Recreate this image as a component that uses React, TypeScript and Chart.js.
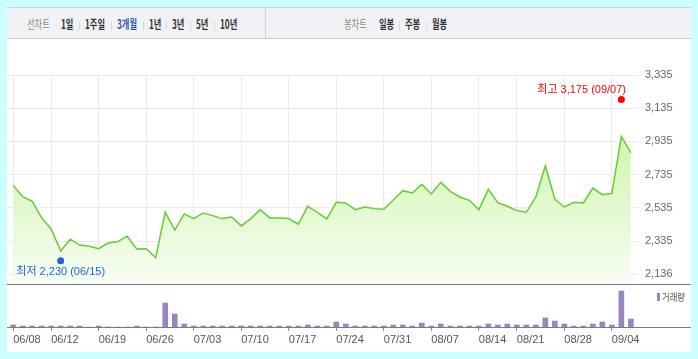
import React, { useEffect, useRef } from "react";
import { Chart, registerables } from "chart.js";

Chart.register(...registerables);

// ---------- data ----------
const tradingDates = [
  "06/08", "06/09", "06/10", "06/11", "06/12", "06/15", "06/16", "06/17", "06/18", "06/19",
  "06/22", "06/23", "06/24", "06/25", "06/26", "06/29", "06/30",
  "07/01", "07/02", "07/03", "07/06", "07/07", "07/08", "07/09", "07/10", "07/13", "07/14",
  "07/15", "07/16", "07/17", "07/20", "07/21", "07/22", "07/23", "07/24", "07/27", "07/28",
  "07/29", "07/30", "07/31",
  "08/03", "08/04", "08/05", "08/06", "08/07", "08/10", "08/11", "08/12", "08/13", "08/14",
  "08/18", "08/19", "08/20", "08/21", "08/24", "08/25", "08/26", "08/27", "08/28", "08/31",
  "09/01", "09/02", "09/03", "09/04", "09/07", "09/08",
];

const closePrices = [
  2671, 2603, 2575, 2476, 2409, 2276, 2347, 2312, 2304, 2290,
  2324, 2332, 2365, 2288, 2290, 2236, 2509,
  2402, 2499, 2471, 2505, 2489, 2471, 2481, 2427, 2471, 2525,
  2475, 2475, 2471, 2437, 2545, 2509, 2469, 2569, 2565, 2525,
  2541, 2531, 2527,
  2583, 2639, 2625, 2677, 2619, 2689, 2635, 2601, 2581, 2525,
  2647, 2567, 2545, 2519, 2509, 2601, 2789, 2587, 2541, 2569,
  2565, 2655, 2615, 2623, 2966, 2868,
];

const volumes = [
  2000, 1000, 1000, 1000, 1000, 1000, 1000, 1000, 0, 1000,
  0, 0, 0, 1000, 0, 0, 24000,
  13000, 3000, 1000, 1000, 1000, 1000, 1000, 1000, 1000, 1000,
  1000, 1000, 1000, 1000, 2000, 1000, 1000, 5000, 3000, 1000,
  1000, 1000, 1000,
  2000, 2000, 1000, 4000, 1000, 3000, 1000, 1000, 1000, 1000,
  3000, 2000, 3000, 2000, 2000, 2000, 9000, 6000, 3000, 1000,
  1000, 3000, 5000, 2000, 36000, 8000,
];

const axisDateLabels = [
  "06/08", "06/12", "06/19", "06/26", "07/03", "07/10", "07/17",
  "07/24", "07/31", "08/07", "08/14", "08/21", "08/28", "09/04",
];

const priceTickLabels = ["2,136", "2,335", "2,535", "2,735", "2,935", "3,135", "3,335"];
const priceTickMin = 2136;
const priceTickMax = 3335;
const priceAxisFloor = 2077.5;
const volumeAxisMax = 42000;

const highValue = 3175;
const highDate = "09/07";
const lowValue = 2230;
const lowDate = "06/15";

const lineTabs = ["1일", "1주일", "3개월", "1년", "3년", "5년", "10년"];
const candleTabs = ["일봉", "주봉", "월봉"];
const volumeLegend = "거래량";

// ---------- styling ----------
const NUM_FONT = '"Liberation Sans", "Noto Sans CJK KR", sans-serif';
const KR_FONT = '"Noto Sans CJK KR", "Liberation Sans", sans-serif';
const LINE_COLOR = "#66cc33";
const BAR_COLOR = "#9985c5";
const X_MIN = -0.65;
const X_MAX = tradingDates.length - 1 + 0.75;

const fmt = (v: number) => Math.round(v).toLocaleString("en-US");

const hiLoPlugin = {
  id: "hiLo",
  afterDatasetsDraw(chart: any) {
    const { ctx, chartArea, scales } = chart;
    const xs = scales.x;
    const ys = scales.y;
    const items = [
      { idx: tradingDates.indexOf(highDate), val: highValue, color: "#ff0000", text: `최고 ${fmt(highValue)} (${highDate})`, up: true },
      { idx: tradingDates.indexOf(lowDate), val: lowValue, color: "#1a66d9", text: `최저 ${fmt(lowValue)} (${lowDate})`, up: false },
    ];
    ctx.save();
    ctx.font = `11px ${NUM_FONT}`;
    for (const it of items) {
      const px = xs.getPixelForValue(it.idx);
      const py = ys.getPixelForValue(it.val) + (it.up ? -2 : 2);
      ctx.fillStyle = it.color;
      ctx.beginPath();
      ctx.arc(px, py, 3.5, 0, Math.PI * 2);
      ctx.fill();
      const w = ctx.measureText(it.text).width;
      let tx = px - w / 2;
      tx = Math.max(chartArea.left + 4, Math.min(tx, chartArea.right - 12 - w));
      const ty = py + (it.up ? -10 : 11);
      ctx.textAlign = "left";
      ctx.textBaseline = "middle";
      ctx.fillText(it.text, tx, ty);
    }
    ctx.restore();
  },
};

const baselinePlugin = {
  id: "fullBaseline",
  afterDraw(chart: any) {
    const { ctx, width } = chart;
    const y = Math.round(chart.scales.y.bottom) + 0.5;
    ctx.save();
    ctx.strokeStyle = "#7a7a7a";
    ctx.lineWidth = 1;
    ctx.beginPath();
    ctx.moveTo(0, y);
    ctx.lineTo(width, y);
    ctx.stroke();
    ctx.restore();
  },
};

function xTicks(scale: any) {
  scale.ticks = axisDateLabels.map((d) => ({ value: tradingDates.indexOf(d) }));
}

export default function App() {
  const priceRef = useRef<HTMLCanvasElement>(null);
  const volRef = useRef<HTMLCanvasElement>(null);

  useEffect(() => {
    const priceChart = new Chart(priceRef.current!, {
      type: "line",
      data: {
        datasets: [
          {
            data: closePrices.map((v, i) => ({ x: i, y: v })),
            borderColor: LINE_COLOR,
            borderWidth: 1.5,
            pointRadius: 0,
            tension: 0,
            fill: "start",
            backgroundColor: (c: any) => {
              const { chart } = c;
              const area = chart.chartArea;
              if (!area) return "rgba(0,0,0,0)";
              const g = chart.ctx.createLinearGradient(0, area.top, 0, area.bottom);
              g.addColorStop(0, "#bef291");
              g.addColorStop(1, "#f8fdf4");
              return g;
            },
          },
        ],
      },
      options: {
        responsive: false,
        animation: false,
        devicePixelRatio: 1,
        layout: { padding: { top: 37, left: 0, right: 0, bottom: 0 } },
        plugins: { legend: { display: false }, tooltip: { enabled: false } },
        scales: {
          x: {
            type: "linear",
            offset: false,
            min: X_MIN,
            max: X_MAX,
            afterBuildTicks: xTicks,
            afterFit: (s: any) => {
              s.height = 0;
              s.paddingLeft = 0;
              s.paddingRight = 0;
            },
            ticks: { display: false },
            grid: { color: "#ebebeb", drawTicks: false, lineWidth: 1 },
            border: { display: false },
          },
          y: {
            position: "right",
            min: priceAxisFloor,
            max: priceTickMax,
            afterBuildTicks: (s: any) => {
              const n = priceTickLabels.length - 1;
              s.ticks = priceTickLabels.map((_, k) => ({ value: priceTickMin + (k * (priceTickMax - priceTickMin)) / n }));
            },
            afterFit: (s: any) => {
              s.width = 53;
              s.paddingTop = 0;
              s.paddingBottom = 0;
            },
            ticks: {
              padding: 7,
              color: "#666",
              font: { family: NUM_FONT, size: 11 },
              callback: (_v: any, i: number) => priceTickLabels[i],
            },
            grid: { color: "#ebebeb", drawTicks: false, lineWidth: 1 },
            border: { display: false },
          },
        },
      },
      plugins: [hiLoPlugin],
    });

    const volChart = new Chart(volRef.current!, {
      type: "bar",
      data: {
        datasets: [
          {
            data: volumes.map((v, i) => ({ x: i, y: v })),
            backgroundColor: BAR_COLOR,
            barThickness: 5,
          },
        ],
      },
      options: {
        responsive: false,
        animation: false,
        devicePixelRatio: 1,
        layout: { padding: { top: 0, left: 0, right: 53, bottom: 0 } },
        plugins: { legend: { display: false }, tooltip: { enabled: false } },
        scales: {
          x: {
            type: "linear",
            offset: false,
            min: X_MIN,
            max: X_MAX,
            afterBuildTicks: xTicks,
            afterFit: (s: any) => {
              s.height = 25;
              s.paddingLeft = 0;
              s.paddingRight = 0;
            },
            ticks: {
              align: "start",
              padding: 2,
              color: "#555",
              font: { family: NUM_FONT, size: 11 },
              callback: (v: any) => tradingDates[v],
            },
            grid: { offset: false, drawOnChartArea: false, drawTicks: true, tickLength: 4, color: "#8c8c8c" },
            border: { display: false },
          },
          y: {
            display: false,
            min: 0,
            max: volumeAxisMax,
          },
        },
      },
      plugins: [baselinePlugin],
    });

    return () => {
      priceChart.destroy();
      volChart.destroy();
    };
  }, []);

  const tabText = (extra: React.CSSProperties): React.CSSProperties => ({
    position: "absolute",
    top: 0,
    lineHeight: "31px",
    fontFamily: KR_FONT,
    fontSize: "12.5px",
    whiteSpace: "nowrap",
    transform: "scaleX(0.66)",
    transformOrigin: "left center",
    ...extra,
  });
  const sep = (left: number): React.CSSProperties => ({
    position: "absolute",
    left,
    top: 13,
    width: 1,
    height: 9,
    background: "#d9d9d9",
  });

  const lineX = [54, 78, 110, 142, 165, 189, 213];
  const candleX = [372, 398, 425];

  return (
    <div style={{ position: "fixed", left: 0, top: 0, width: 698, height: 359, background: "#ccffff", overflow: "hidden" }}>
      <div style={{ position: "absolute", left: 7, top: 7, width: 684, height: 345, background: "#fff" }}>
        <div
          style={{
            position: "absolute",
            left: 0,
            top: 0,
            width: 684,
            height: 30,
            background: "#f1f2f6",
            borderTop: "1px solid #cdd2d8",
            borderBottom: "1px solid #c9ced5",
            boxSizing: "content-box",
          }}
        >
          <span style={tabText({ left: 20, color: "#8a8a8a" })}>선차트</span>
          {lineTabs.map((t, i) => (
            <React.Fragment key={t}>
              {i > 0 && <span style={sep(lineX[i] - 6)} />}
              <span
                style={tabText({
                  left: lineX[i],
                  fontWeight: 700,
                  color: t === "3개월" ? "#3556b4" : "#333",
                })}
              >
                {t}
              </span>
            </React.Fragment>
          ))}
          <span style={{ position: "absolute", left: 258, top: 0, width: 1, height: 30, background: "#cfd3d9" }} />
          <span style={tabText({ left: 337, color: "#8a8a8a" })}>봉차트</span>
          {candleTabs.map((t, i) => (
            <React.Fragment key={t}>
              {i > 0 && <span style={sep(candleX[i] - 6)} />}
              <span style={tabText({ left: candleX[i], fontWeight: 700, color: "#333" })}>{t}</span>
            </React.Fragment>
          ))}
        </div>
        <canvas ref={priceRef} width={684} height={246} style={{ position: "absolute", left: 0, top: 31, width: 684, height: 246 }} />
        <div style={{ position: "absolute", left: 0, top: 277, width: 684, height: 1, background: "#7a7a7a" }} />
        <canvas ref={volRef} width={684} height={67} style={{ position: "absolute", left: 0, top: 278, width: 684, height: 67 }} />
        <span style={{ position: "absolute", left: 650, top: 286, width: 3, height: 8, background: BAR_COLOR }} />
        <span
          style={{
            position: "absolute",
            left: 655,
            top: 283,
            lineHeight: "14px",
            fontFamily: KR_FONT,
            fontSize: "10px",
            color: "#555",
            whiteSpace: "nowrap",
            transform: "scaleX(0.83)",
            transformOrigin: "left center",
          }}
        >
          {volumeLegend}
        </span>
      </div>
    </div>
  );
}
